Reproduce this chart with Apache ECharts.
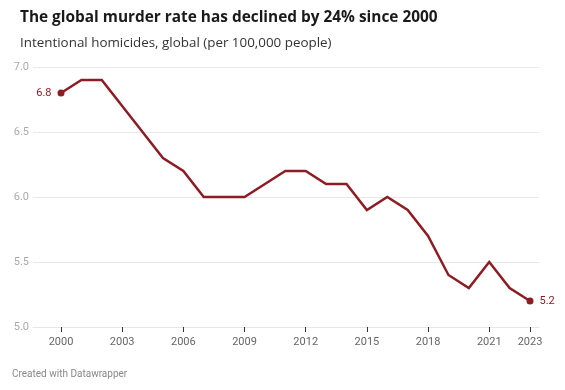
<!DOCTYPE html>
<html>
<head>
<meta charset="utf-8">
<script src="https://cdn.jsdelivr.net/npm/echarts@6/dist/echarts.min.js"></script>
<style>
html,body{margin:0;padding:0;background:#fff;}
#c{width:565px;height:390px;}
</style>
</head>
<body>
<div id="c"></div>
<script>
const years = [2000,2001,2002,2003,2004,2005,2006,2007,2008,2009,2010,2011,2012,2013,2014,2015,2016,2017,2018,2019,2020,2021,2022,2023];
const homicideRate = [6.8,6.9,6.9,6.7,6.5,6.3,6.2,6.0,6.0,6.0,6.1,6.2,6.2,6.1,6.1,5.9,6.0,5.9,5.7,5.4,5.3,5.5,5.3,5.2];
const xTickYears = [2000,2003,2006,2009,2012,2015,2018,2021,2023];
const yTicks = [5.0,5.5,6.0,6.5,7.0];

const lineColor = '#8c1d24';
const lastIdx = years.length - 1;
const seriesData = years.map((y, i) => {
  const item = { value: [y, homicideRate[i]] };
  if (i === 0) {
    item.label = { show: true, position: 'left', distance: 6 };
  } else if (i === lastIdx) {
    item.label = { show: true, position: 'right', distance: 6 };
  }
  return item;
});

const chart = echarts.init(document.getElementById('c'), null, { renderer: 'canvas' });
chart.setOption({
  backgroundColor: '#fff',
  animation: false,
  textStyle: { fontFamily: 'Roboto, sans-serif' },
  title: [
    { text: 'The global murder rate has declined by 24% since 2000', left: 20, top: 10, padding: 0,
      textStyle: { fontSize: 15.4, fontWeight: 'bold', color: '#1a1a1a', fontFamily: '"Open Sans", sans-serif' } },
    { text: 'Intentional homicides, global (per 100,000 people)', left: 20, top: 37, padding: 0,
      textStyle: { fontSize: 13.4, fontWeight: 'normal', color: '#333', fontFamily: '"Open Sans", sans-serif' } },
    { text: 'Created with Datawrapper', left: 12, top: 369, padding: 0,
      textStyle: { fontSize: 10, fontWeight: 'normal', color: '#888', fontFamily: 'Roboto, sans-serif' } }
  ],
  grid: { left: 33, right: 26, top: 67, bottom: 63, containLabel: false },
  xAxis: {
    type: 'value',
    min: 1998.627,
    max: 2023.44,
    axisLine: { show: true, lineStyle: { color: '#e6e6e6', width: 1 } },
    axisTick: { show: true, customValues: xTickYears, length: 5, lineStyle: { color: '#333', width: 1 } },
    axisLabel: { customValues: xTickYears, color: '#666', fontSize: 11, margin: 10,
      formatter: v => String(Math.round(v)) },
    splitLine: { show: false }
  },
  yAxis: {
    type: 'value',
    min: 5, max: 7, interval: 0.5,
    axisLine: { show: false },
    axisTick: { show: false },
    axisLabel: { color: '#aaa', fontSize: 11, margin: 4, formatter: v => v.toFixed(1) },
    splitLine: { show: true, lineStyle: { color: '#e8e8e8', width: 1 } }
  },
  series: [{
    type: 'line',
    data: seriesData,
    lineStyle: { color: lineColor, width: 2.5, join: 'miter' },
    itemStyle: { color: lineColor },
    symbol: 'circle',
    showSymbol: true,
    symbolSize: (val, params) => (params.dataIndex === 0 || params.dataIndex === lastIdx) ? 7 : 0,
    label: { show: false, color: lineColor, fontSize: 11, formatter: p => p.value[1].toFixed(1) },
    z: 5
  }]
});
</script>
</body>
</html>
